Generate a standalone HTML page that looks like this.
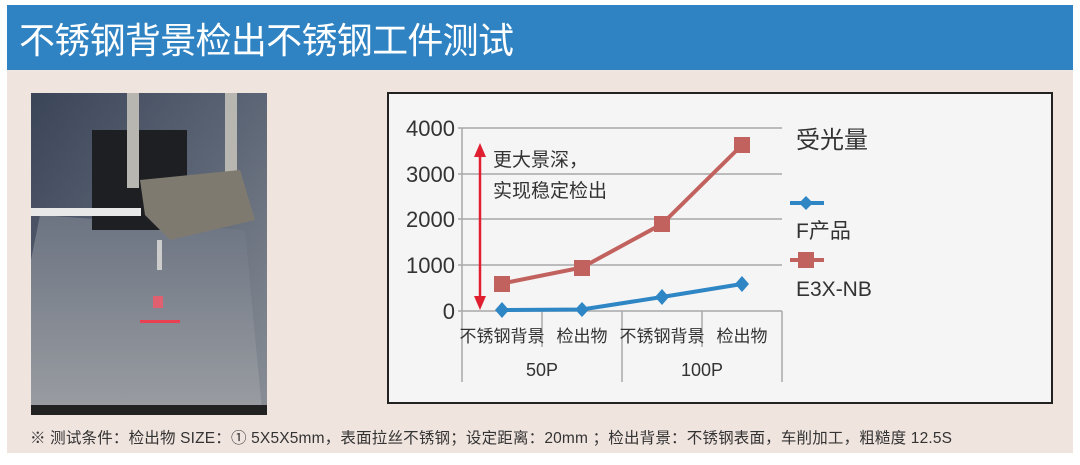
<!DOCTYPE html>
<html><head><meta charset="utf-8"><style>
body{margin:0;background:#fff;width:1080px;height:460px;overflow:hidden;font-family:"Liberation Sans","Noto Sans CJK SC",sans-serif}
</style></head><body>
<svg width="1080" height="460" xmlns="http://www.w3.org/2000/svg" font-family="Liberation Sans, Noto Sans CJK SC, sans-serif">
<defs>
<linearGradient id="pg" x1="0" y1="0" x2="1" y2="1">
<stop offset="0" stop-color="#3b4558"/><stop offset="0.5" stop-color="#5d6676"/><stop offset="1" stop-color="#8a8f96"/>
</linearGradient>
<linearGradient id="pl" x1="0" y1="0" x2="0" y2="1">
<stop offset="0" stop-color="#6c7482"/><stop offset="1" stop-color="#9a9da2"/>
</linearGradient>
</defs>
<rect x="7" y="5" width="1066" height="448" fill="#f0e4df"/>
<rect x="7" y="5" width="1066" height="65" fill="#2f83c3"/>
<text x="19" y="53" font-size="36" fill="#fff" textLength="495">不锈钢背景检出不锈钢工件测试</text>
<!-- photo -->
<rect x="31" y="93" width="236" height="322" fill="url(#pg)"/>
<polygon points="40,215 245,230 262,410 31,412 31,260" fill="url(#pl)"/>
<rect x="92" y="130" width="95" height="100" fill="#1e1f22"/>
<rect x="127" y="93" width="12" height="95" fill="#b8b6b0"/>
<rect x="225" y="93" width="12" height="100" fill="#b8b6b0"/>
<polygon points="140,180 240,170 255,220 170,240 145,215" fill="#7f7a70"/>
<rect x="31" y="208" width="110" height="8" fill="#e8e8e8"/>
<rect x="157" y="240" width="5" height="30" fill="#ccc"/>
<rect x="153" y="296" width="10" height="12" fill="#e06070"/>
<rect x="140" y="320" width="40" height="3" fill="#e84050"/>
<rect x="31" y="405" width="236" height="10" fill="#222"/>
<!-- chart box -->
<rect x="388" y="93" width="664" height="310" fill="#f5f5f5" stroke="#222" stroke-width="2"/>
<g stroke="#a8a8a8" stroke-width="1.5">
<line x1="458" y1="128" x2="782" y2="128"/>
<line x1="458" y1="174" x2="782" y2="174"/>
<line x1="458" y1="219" x2="782" y2="219"/>
<line x1="458" y1="265" x2="782" y2="265"/>
<line x1="458" y1="311" x2="782" y2="311"/>
<line x1="462" y1="128" x2="462" y2="382"/>
<line x1="542" y1="311" x2="542" y2="347"/>
<line x1="622" y1="311" x2="622" y2="382"/>
<line x1="702" y1="311" x2="702" y2="347"/>
<line x1="782" y1="311" x2="782" y2="382"/>
</g>
<g font-size="22" fill="#333" text-anchor="end">
<text x="455" y="136">4000</text><text x="455" y="182">3000</text><text x="455" y="227">2000</text><text x="455" y="273">1000</text><text x="455" y="319">0</text>
</g>
<g font-size="17" fill="#333" text-anchor="middle">
<text x="502" y="342">不锈钢背景</text><text x="582" y="342">检出物</text><text x="662" y="342">不锈钢背景</text><text x="742" y="342">检出物</text>
<text x="542" y="376" font-size="18">50P</text><text x="702" y="376" font-size="18">100P</text>
</g>
<!-- arrow -->
<line x1="480" y1="155" x2="480" y2="298" stroke="#e02030" stroke-width="2.5"/>
<polygon points="480,143 474,157 486,157" fill="#e02030"/>
<polygon points="480,310 474,296 486,296" fill="#e02030"/>
<text x="493" y="166" font-size="19" fill="#333">更大景深，</text>
<text x="493" y="197" font-size="19" fill="#333">实现稳定检出</text>
<!-- series -->
<polyline points="502,283.5 582,267.5 662,224 742,145" fill="none" stroke="#c2625e" stroke-width="4"/>
<g fill="#c2625e"><rect x="494" y="276" width="16" height="16"/><rect x="574" y="260" width="16" height="16"/><rect x="654" y="216" width="16" height="16"/><rect x="734" y="137" width="16" height="16"/></g>
<polyline points="502,310 582,309.5 662,297 742,284" fill="none" stroke="#2f86c5" stroke-width="4"/>
<g fill="#2f86c5"><polygon points="502,302 509,310 502,318 495,310"/><polygon points="582,302 589,309.5 582,317 575,309.5"/><polygon points="662,289 669,297 662,305 655,297"/><polygon points="742,276 749,284 742,292 735,284"/></g>
<!-- legend -->
<text x="796" y="148" font-size="24" fill="#333">受光量</text>
<line x1="790" y1="203" x2="824" y2="203" stroke="#2f86c5" stroke-width="4"/>
<polygon points="806,196 813,203 806,210 799,203" fill="#2f86c5"/>
<text x="796" y="238" font-size="21" fill="#333">F产品</text>
<line x1="790" y1="260" x2="824" y2="260" stroke="#c2625e" stroke-width="4"/>
<rect x="798" y="252" width="16" height="16" fill="#c2625e"/>
<text x="796" y="296" font-size="21" fill="#333">E3X-NB</text>
<text x="30" y="443" font-size="15.5" fill="#333" textLength="922">※ 测试条件：检出物 SIZE：① 5X5X5mm，表面拉丝不锈钢；设定距离：20mm ；检出背景：不锈钢表面，车削加工，粗糙度 12.5S</text>
</svg>
</body></html>
